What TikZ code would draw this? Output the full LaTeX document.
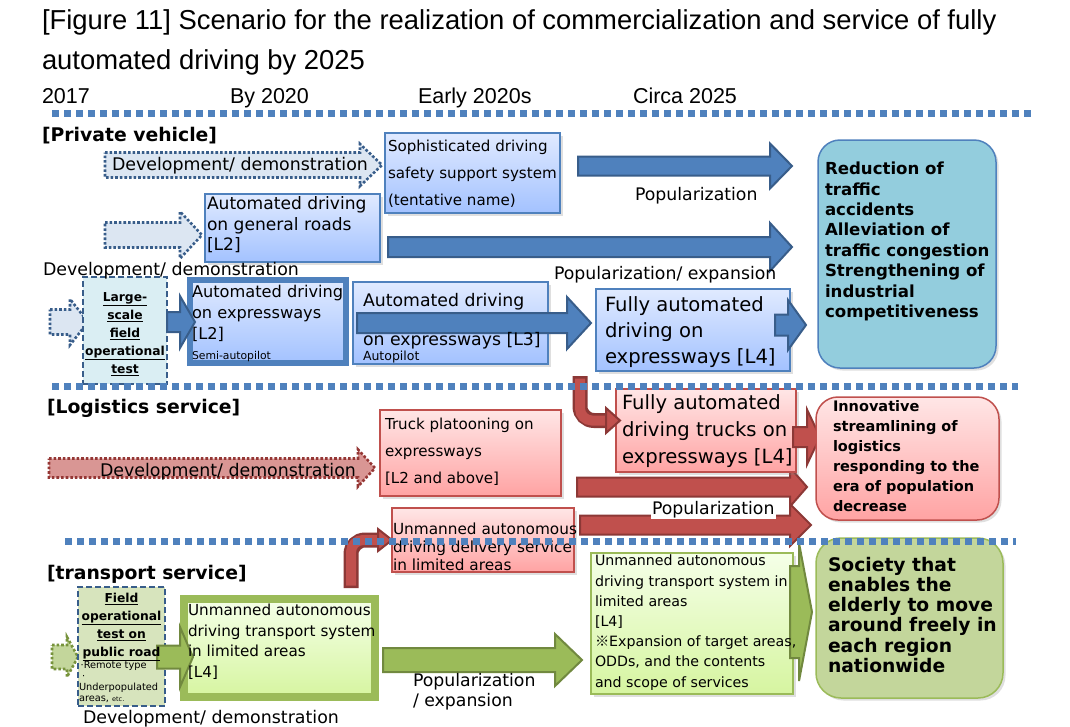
\documentclass[tikz,border=0pt]{standalone}
\usepackage{fontspec}
\setmainfont{DejaVu Sans}
\newfontfamily\titlefont{Liberation Sans}
\newfontfamily\cjk{Noto Sans CJK JP}
\usetikzlibrary{calc}
\usetikzlibrary{shadows}

\definecolor{sepblue}{RGB}{79,129,189}
\definecolor{boxblue}{RGB}{79,129,189}
\definecolor{barfill}{RGB}{79,129,189}
\definecolor{barline}{RGB}{56,93,138}
\definecolor{bluetop}{RGB}{224,234,255}
\definecolor{bluebot}{RGB}{163,194,255}
\definecolor{devbluefill}{RGB}{220,230,242}
\definecolor{testblue}{RGB}{218,238,243}
\definecolor{goalblue}{RGB}{147,205,221}
\definecolor{boxred}{RGB}{192,80,77}
\definecolor{redfill}{RGB}{192,80,77}
\definecolor{redline}{RGB}{140,56,54}
\definecolor{redtop}{RGB}{255,230,230}
\definecolor{redbot}{RGB}{255,163,163}
\definecolor{devredfill}{RGB}{217,150,148}
\definecolor{devredline}{RGB}{149,55,53}
\definecolor{boxgreen}{RGB}{155,187,89}
\definecolor{greenfill}{RGB}{155,187,89}
\definecolor{greenline}{RGB}{113,137,63}
\definecolor{greentop}{RGB}{245,255,232}
\definecolor{greenbot}{RGB}{214,245,160}
\definecolor{devgreenfill}{RGB}{195,214,155}
\definecolor{devgreenline}{RGB}{119,147,60}
\definecolor{testgreen}{RGB}{215,228,189}
\definecolor{goalgreen}{RGB}{195,214,155}

\newcommand{\fsz}[2]{\fontsize{#1}{#2}\selectfont}
% block arrow: style, x start, x tip, y middle, body half, head half, head length
\newcommand{\barrow}[7]{%
  \draw[#1] (#2,{#4-#5}) -- ({#3-#7},{#4-#5}) -- ({#3-#7},{#4-#6}) -- (#3,#4)
    -- ({#3-#7},{#4+#6}) -- ({#3-#7},{#4+#5}) -- (#2,{#4+#5}) -- cycle;}

\tikzset{
  stagebox/.style={draw, line width=2pt, anchor=north west, inner sep=0pt, outer sep=0pt,
    drop shadow={shadow xshift=2.5pt, shadow yshift=-2.5pt, opacity=0.25}},
  bluebox/.style={stagebox, draw=boxblue, top color=bluetop, bottom color=bluebot},
  redbox/.style={stagebox, draw=boxred, top color=redtop, bottom color=redbot},
  greenbox/.style={stagebox, draw=boxgreen, top color=greentop, bottom color=greenbot},
  goalbox/.style={stagebox, rounded corners=22pt, line width=1.5pt},
  testbox/.style={draw=barline, line width=1.6pt, dash pattern=on 6pt off 3pt,
    anchor=north west, inner sep=0pt, outer sep=0pt},
  txt/.style={anchor=north west, inner sep=0pt, outer sep=0pt, align=left},
  bluearrow/.style={fill=barfill, draw=barline, line width=2pt},
  redarrow/.style={fill=redfill, draw=redline, line width=2pt},
  greenarrow/.style={fill=greenfill, draw=greenline, line width=2pt},
  devblue/.style={fill=devbluefill, draw=barline, line width=2.6pt, dash pattern=on 2.6pt off 2pt},
  devred/.style={fill=devredfill, draw=devredline, line width=2.6pt, dash pattern=on 2.6pt off 2pt},
  devgreen/.style={fill=devgreenfill, draw=devgreenline, line width=2.6pt, dash pattern=on 2.6pt off 2pt},
  sepline/.style={draw=sepblue, line width=7pt, dash pattern=on 7pt off 5pt},
}

\begin{document}
\begin{tikzpicture}[x=1pt, y=-1pt]
    \fill[white] (0,0) rectangle (1070,726);
    \useasboundingbox (0,0) rectangle (1070,726);

    % title and time line
    \node[txt, font=\titlefont\fsz{27.4}{40}] (title) at (42,10)
        {[Figure 11] Scenario for the realization of commercialization and service of fully\\automated driving by 2025};
    \node[txt, font=\titlefont\fsz{21.5}{24}] (t2017) at (42,88) {2017};
    \node[txt, font=\titlefont\fsz{21.5}{24}] (t2020) at (230,88) {By 2020};
    \node[txt, font=\titlefont\fsz{21.5}{24}] (tearly) at (418,88) {Early 2020s};
    \node[txt, font=\titlefont\fsz{21.5}{24}] (t2025) at (633,88) {Circa 2025};

    % private vehicle
    \barrow{devblue}{105}{382}{165}{12.5}{21}{22}
    \node[bluebox, minimum width=175pt, minimum height=80pt] (soph) at (385,133) {};
    \barrow{bluearrow}{578}{792}{166}{9.5}{22.5}{22}
    \barrow{devblue}{105}{202}{235}{12.5}{23.5}{22}
    \node[bluebox, minimum width=175pt, minimum height=68pt] (road) at (205,194) {};
    \barrow{bluearrow}{388}{792}{247}{10}{24}{22}
    \barrow{devblue}{50}{88}{322}{12.5}{23}{18}
    \node[testbox, fill=testblue, minimum width=84pt, minimum height=107pt] (fot) at (83,277) {};
    \node[bluebox, line width=6pt, minimum width=156pt, minimum height=83pt] (exptwo) at (190,280) {};
    \barrow{bluearrow}{167}{195}{322}{10}{26}{15}
    \node[bluebox, minimum width=195pt, minimum height=82pt] (expthree) at (353,282) {};
    \barrow{bluearrow}{357}{591}{323}{10}{26}{24}
    \node[bluebox, minimum width=194pt, minimum height=82pt] (expfour) at (596,289) {};
    \barrow{bluearrow}{775}{806}{325}{10.5}{25}{18}
    \node[goalbox, draw=boxblue, fill=goalblue, minimum width=178pt, minimum height=228pt] (goalcar) at (818,140) {};

    % logistics service
    \barrow{devred}{49}{375}{468}{9.5}{18.5}{17}
    \node[redbox, minimum width=181pt, minimum height=86pt] (platoon) at (380,410) {};
    \barrow{redarrow}{577}{807}{487}{9.5}{19.5}{17}
    \barrow{redarrow}{580}{811}{525}{9.5}{21}{21}
    \node[redbox, minimum width=182pt, minimum height=64pt] (delivery) at (392,508) {};
    \node[redbox, minimum width=180pt, minimum height=83pt] (trucks) at (616,389) {};
    \barrow{redarrow}{793}{820}{437}{10}{27.5}{13}
    \node[goalbox, draw=boxred, top color=redtop, bottom color=redbot, minimum width=183pt, minimum height=123pt] (goallog) at (816,397) {};

    % curved arrows
    \coordinate (Ta) at (580,376);
    \coordinate (Tb) at (580,420.5);
    \coordinate (Tc) at (608,420.5);
    \draw[redline, line width=15pt, rounded corners=14pt] (Ta) -- (Tb) -- (Tc);
    \draw[redfill, line width=10pt, rounded corners=12pt] ($(Ta)+(0,2.5)$) -- (Tb) -- (Tc);
    \draw[redarrow] (606,408) -- (620,420.5) -- (606,433) -- cycle;
    \coordinate (Da) at (351,588);
    \coordinate (Db) at (351,540);
    \coordinate (Dc) at (380,540);
    \draw[redline, line width=15pt, rounded corners=14pt] (Da) -- (Db) -- (Dc);
    \draw[redfill, line width=10pt, rounded corners=12pt] ($(Da)+(0,-2.5)$) -- (Db) -- (Dc);
    \draw[redarrow] (378,529) -- (392,540) -- (378,551) -- cycle;

    % transport service
    \barrow{devgreen}{52}{78}{657}{12}{20}{11}
    \node[testbox, fill=testgreen, minimum width=87pt, minimum height=119pt] (fotroad) at (78,587) {};
    \node[greenbox, line width=8pt, minimum width=191pt, minimum height=98pt] (areaone) at (184,599) {};
    \barrow{greenarrow}{157}{193}{657}{11.5}{30}{13}
    \barrow{greenarrow}{383}{582}{660}{12}{26}{27}
    \node[greenbox, minimum width=202pt, minimum height=141pt] (areatwo) at (591,553) {};
    \barrow{greenarrow}{790}{812}{612}{46}{69}{13}
    \node[goalbox, rounded corners=25pt, draw=boxgreen, fill=goalgreen, minimum width=187pt, minimum height=160pt] (goalpub) at (816,538) {};

    % section headings
    \node[txt, font=\bfseries\fsz{18.8}{22}] (hcar) at (42,127) {[Private vehicle]};
    \node[txt, font=\bfseries\fsz{18.8}{22}] (hlog) at (47,399) {[Logistics service]};
    \node[txt, font=\bfseries\fsz{18.8}{22}] (hpub) at (47,565) {[transport service]};

    % arrow labels
    \node[txt, font=\fsz{17.4}{20}] (devcar) at (112,157) {Development/ demonstration};
    \node[txt, font=\fsz{17.4}{20}] (devroad) at (43,262) {Development/ demonstration};
    \node[txt, font=\fsz{17.4}{20}] (devlog) at (100,463) {Development/ demonstration};
    \node[txt, font=\fsz{17.4}{20}] (devpub) at (83,710) {Development/ demonstration};
    \node[txt, font=\fsz{17.3}{20}] (popcar) at (635,187) {Popularization};
    \node[txt, font=\fsz{17.3}{20}] (poproad) at (554,266) {Popularization/ expansion};
    \node[txt, font=\fsz{17.3}{20}, fill=white, inner sep=1pt] (poplog) at (651,500) {Popularization};
    \node[txt, font=\fsz{17.3}{20}] (poppub) at (413,673) {Popularization\\/ expansion};

    % box texts
    \node[txt, font=\fsz{15.1}{27}] (sophtext) at (388,140)
        {Sophisticated driving\\safety support system\\(tentative name)};
    \node[txt, font=\fsz{17.1}{20.5}] (roadtext) at (207,197)
        {Automated driving\\on general roads\\{}[L2]};
    \node[txt, font=\fsz{16.2}{21}] (exptwotext) at (192,285)
        {Automated driving\\on expressways\\{}[L2]};
    \node[txt, font=\fsz{10.8}{12}] (semi) at (192,351) {Semi-autopilot};
    \node[txt, font=\fsz{17.3}{39}] (expthreetext) at (363,293)
        {Automated driving\\on expressways [L3]};
    \node[txt, font=\fsz{12.5}{14}] (auto) at (363,351) {Autopilot};
    \node[txt, font=\fsz{19.6}{26}] (expfourtext) at (605,297)
        {Fully automated\\driving on\\expressways [L4]};
    \node[txt, font=\bfseries\fsz{16.6}{20.4}] (goalcartext) at (825,162)
        {Reduction of\\traffic\\accidents\\Alleviation of\\traffic congestion\\Strengthening of\\industrial\\competitiveness};
    \node[anchor=north, inner sep=0pt, align=center, font=\bfseries\fsz{12.3}{18}] (fottext) at (125,292)
        {\underline{Large-}\\\underline{scale}\\\underline{field}\\\underline{operational}\\\underline{test}};

    \node[txt, font=\fsz{15.1}{27}] (platoontext) at (385,418)
        {Truck platooning on\\expressways\\{}[L2 and above]};
    \node[txt, font=\fsz{15.3}{18}] (deliverytext) at (393,523)
        {Unmanned autonomous\\driving delivery service\\in limited areas};
    \node[txt, font=\fsz{19.6}{27}] (truckstext) at (622,395)
        {Fully automated\\driving trucks on\\expressways [L4]};
    \node[txt, font=\bfseries\fsz{14.5}{20}] (goallogtext) at (833,400)
        {Innovative\\streamlining of\\logistics\\responding to the\\era of population\\decrease};

    \node[anchor=north, inner sep=0pt, align=center, font=\bfseries\fsz{12.3}{18}] (fotroadtext) at (121.5,593)
        {\underline{Field}\\\underline{operational}\\\underline{test on}\\\underline{public road}};
    \node[txt, font=\fsz{9.8}{11}] (fotroadnote) at (79,661)
        {\,·Remote type\\\hspace{3pt}·\\Underpopulated\\areas, {\fsz{6.5}{8}etc.}};
    \node[txt, font=\fsz{15.2}{20.5}] (areaonetext) at (188,604)
        {Unmanned autonomous\\driving transport system\\in limited areas\\{}[L4]};
    \node[txt, font=\fsz{14.2}{20.2}] (areatwotext) at (595,555)
        {Unmanned autonomous\\driving transport system in\\limited areas\\{}[L4]\\{\cjk ※}Expansion of target areas,\\ODDs, and the contents\\and scope of services};
    \node[txt, font=\bfseries\fsz{18.7}{20.2}] (goalpubtext) at (828,557)
        {Society that\\enables the\\elderly to move\\around freely in\\each region\\nationwide};

    % separators
    \draw[sepline] (52,113) -- (1031,113);
    \draw[sepline] (52,386) -- (1018,386);
    \draw[sepline] (65,541) -- (1016,541);
\end{tikzpicture}
\end{document}
